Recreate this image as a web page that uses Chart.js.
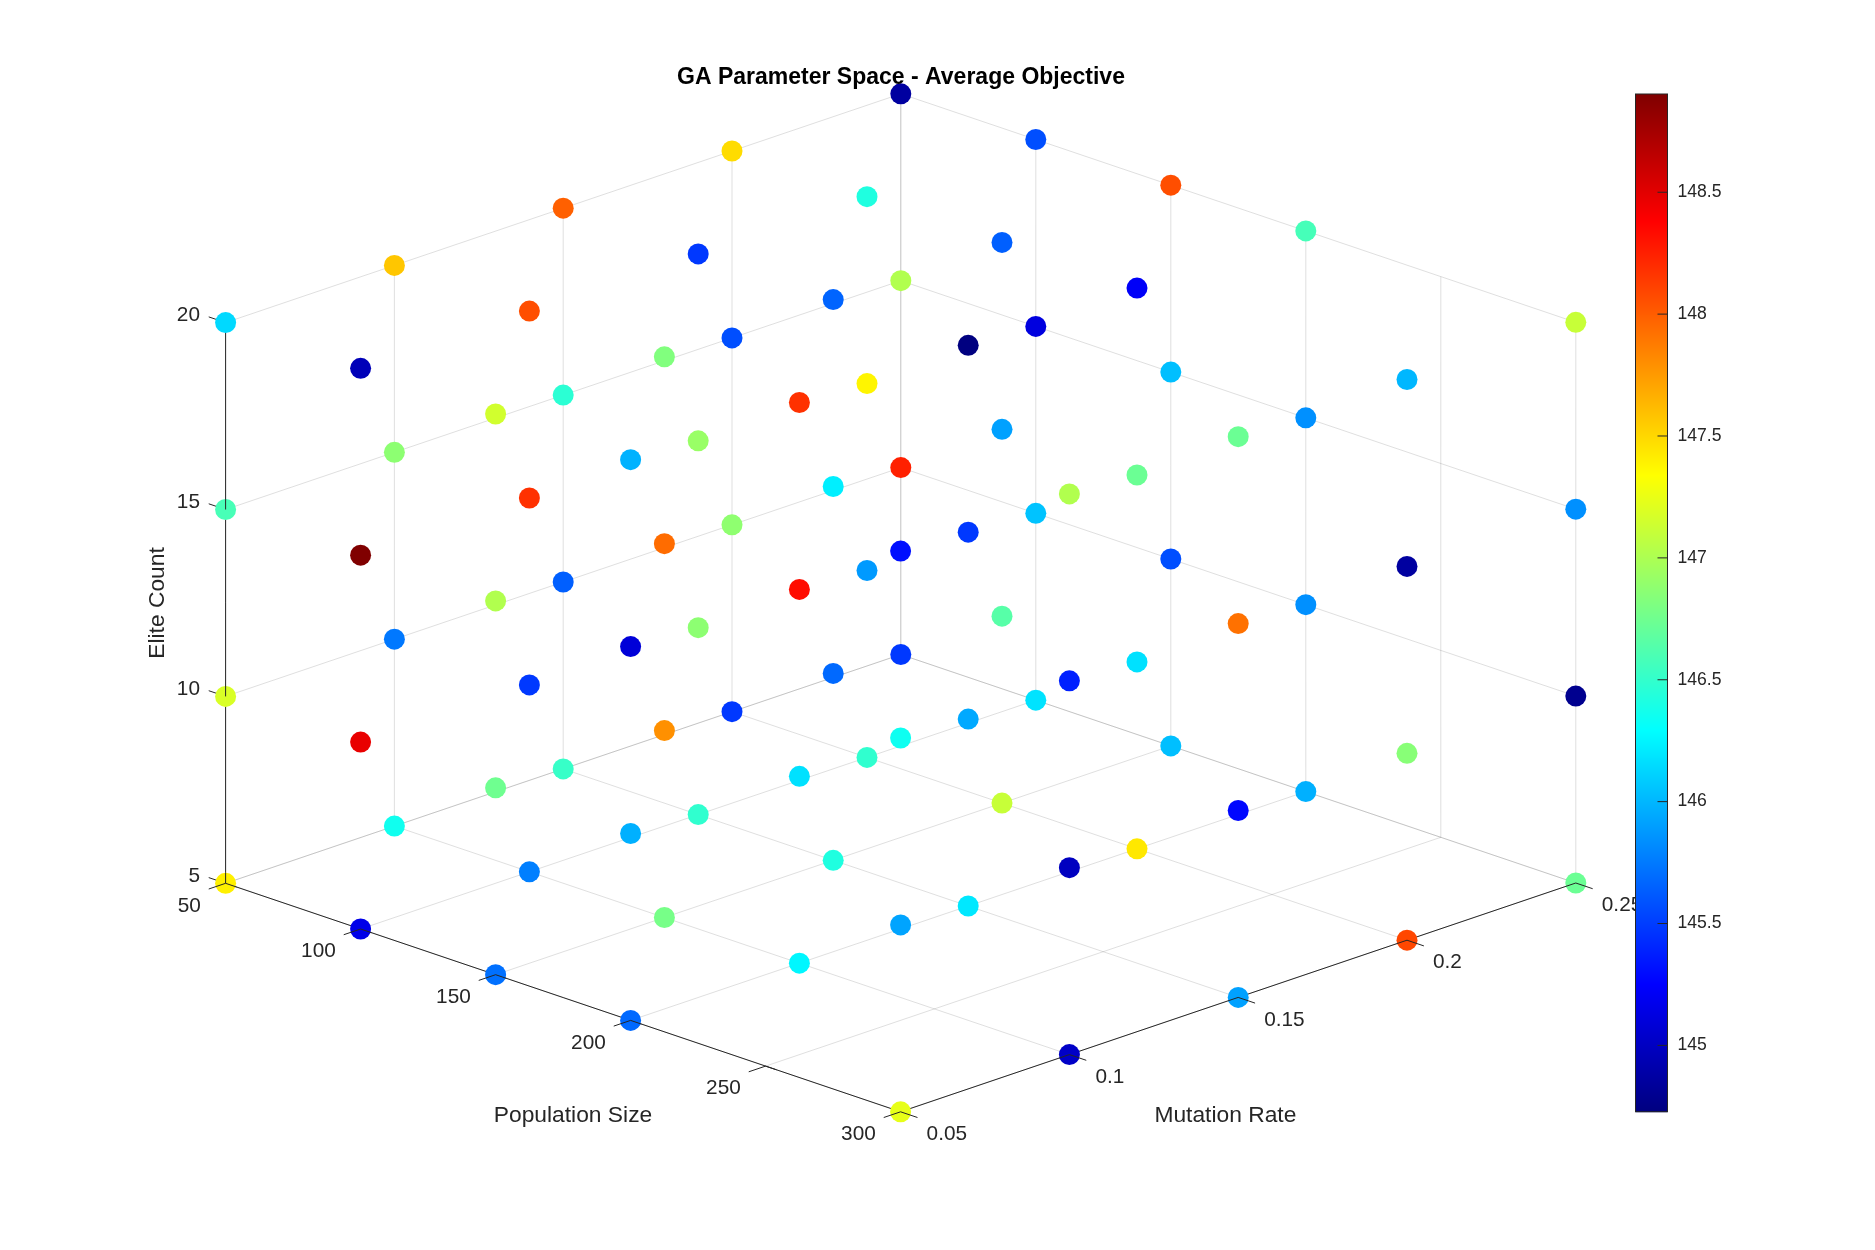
<!DOCTYPE html>
<html>
<head>
    <title>GA Parameter Space - Average Objective</title>
    <meta charset="utf-8" />
    <style>
        html, body { margin: 0; padding: 0; background: #fff; }
        #plot { display: block; width: 1875px; height: 1250px; }
    </style>
</head>
<body>
<canvas id="plot" width="1875" height="1250"></canvas>

<script src="https://cdn.jsdelivr.net/npm/chart.js@4/dist/chart.umd.min.js"></script>
<script>
    // grid of parameter values that were tried
    var populationSizes = [50, 100, 150, 200, 300];
    var mutationRates = [0.05, 0.1, 0.15, 0.2, 0.25];
    var eliteCounts = [5, 10, 15, 20];

    // average objective, one row per mutation rate, one column per population size
    var objElite5 = [
        [147.40, 145.16, 145.71, 145.68, 147.24],
        [146.36, 145.77, 146.78, 146.26, 145.02],
        [146.52, 146.49, 146.42, 146.20, 145.91],
        [145.48, 146.49, 147.11, 147.43, 148.09],
        [145.48, 146.18, 146.03, 145.97, 146.73]
    ];
    var objElite10 = [
        [147.18, 148.47, 146.75, 145.97, 145.92],
        [145.74, 145.48, 147.79, 146.17, 144.99],
        [145.64, 146.87, 145.68, 145.94, 145.28],
        [146.88, 145.88, 146.65, 146.17, 146.85],
        [148.25, 146.05, 145.57, 145.84, 144.79]
    ];
    var objElite15 = [
        [146.59, 148.90, 147.02, 145.09, 146.35],
        [146.87, 148.18, 147.94, 148.33, 145.38],
        [146.47, 146.92, 146.23, 145.48, 147.92],
        [145.57, 147.38, 145.91, 146.73, 144.86],
        [147.02, 145.12, 146.03, 145.84, 145.84]
    ];
    var objElite20 = [
        [146.14, 144.96, 147.15, 145.98, 145.31],
        [147.57, 148.06, 146.82, 148.18, 147.02],
        [147.99, 145.48, 145.66, 144.73, 146.73],
        [147.48, 146.42, 145.64, 145.22, 146.00],
        [144.86, 145.57, 148.06, 146.58, 147.11]
    ];
    var objByElite = [objElite5, objElite10, objElite15, objElite20];

    // axis ticks
    var popTicks = [50, 100, 150, 200, 250, 300];
    var mutTicks = [0.05, 0.1, 0.15, 0.2, 0.25];
    var mutTickLabels = ['0.05', '0.1', '0.15', '0.2', '0.25'];
    var eliteTicks = [5, 10, 15, 20];
    var colorTicks = [145, 145.5, 146, 146.5, 147, 147.5, 148, 148.5];
    var colorMin = 144.728, colorMax = 148.903;

    // fixed 3d view, worked out from the axis corners
    function project(pop, mut, elite) {
        var a = (pop - 50) / 50, b = (mut - 0.05) / 0.05, c = (elite - 5) / 5;
        return {
            x: 225.6 + 135 * a + 168.8 * b,
            y: 883.3 + 45.7 * a - 57.2 * b - 186.9 * c
        };
    }

    function jet(t) {
        function clamp(v) { return Math.max(0, Math.min(1, v)); }
        var r = clamp(Math.min(4 * t - 1.5, -4 * t + 4.5));
        var g = clamp(Math.min(4 * t - 0.5, -4 * t + 3.5));
        var b = clamp(Math.min(4 * t + 0.5, -4 * t + 2.5));
        return 'rgb(' + Math.round(r * 255) + ',' + Math.round(g * 255) + ',' + Math.round(b * 255) + ')';
    }
    function valueColor(v) {
        return jet((v - colorMin) / (colorMax - colorMin));
    }

    var gridColor = 'rgba(38,38,38,0.15)';
    var axisColor = '#262626';
    var datasets = [];

    function addLine(points, color, order) {
        datasets.push({
            type: 'line',
            data: points,
            borderColor: color,
            borderWidth: 1,
            pointRadius: 0,
            fill: false,
            order: order
        });
    }
    function seg(p1, m1, e1, p2, m2, e2) {
        return [project(p1, m1, e1), project(p2, m2, e2)];
    }

    // grid lines on the floor and on the two back walls
    popTicks.forEach(function (p) {
        addLine(seg(p, 0.05, 5, p, 0.25, 5), gridColor, 6);
        addLine(seg(p, 0.25, 5, p, 0.25, 20), gridColor, 6);
    });
    mutTicks.forEach(function (m) {
        addLine(seg(50, m, 5, 300, m, 5), gridColor, 6);
        addLine(seg(50, m, 5, 50, m, 20), gridColor, 6);
    });
    eliteTicks.forEach(function (e) {
        addLine(seg(50, 0.05, e, 50, 0.25, e), gridColor, 6);
        addLine(seg(50, 0.25, e, 300, 0.25, e), gridColor, 6);
    });

    // axis rulers
    addLine(seg(50, 0.05, 5, 300, 0.05, 5), axisColor, 5);
    addLine(seg(300, 0.05, 5, 300, 0.25, 5), axisColor, 5);
    addLine(seg(50, 0.05, 5, 50, 0.05, 20), axisColor, 5);
    eliteTicks.forEach(function (e) {
        addLine(seg(50, 0.05, e, 43.75, 0.05, e), axisColor, 5);
    });

    // ticks sit on top of the markers, together with a short piece of the ruler
    popTicks.forEach(function (p) {
        var end = Math.min(p + 4, 300);
        addLine([project(p, 0.045, 5), project(p, 0.05, 5), project(end, 0.05, 5)], axisColor, 1);
    });
    mutTicks.forEach(function (m) {
        var start = Math.max(m - 0.003, 0.05);
        addLine([project(300, start, 5), project(300, m, 5), project(306.25, m, 5)], axisColor, 1);
    });
    eliteTicks.forEach(function (e) {
        addLine(seg(50, 0.05, e, 50, 0.05, Math.min(e + 0.28, 20)), axisColor, 1);
    });

    // the scatter itself
    var points = [], colors = [];
    eliteCounts.forEach(function (e, k) {
        mutationRates.forEach(function (m, j) {
            populationSizes.forEach(function (p, i) {
                var v = objByElite[k][j][i];
                points.push(project(p, m, e));
                colors.push(valueColor(v));
            });
        });
    });
    datasets.push({
        type: 'scatter',
        data: points,
        backgroundColor: colors,
        borderWidth: 0,
        pointRadius: 10.5,
        order: 2
    });

    var textColor = '#262626';
    var tickFont = '20.8px "Liberation Sans"';
    var labelFont = '22.8px "Liberation Sans"';

    var decorations = {
        id: 'decorations',
        afterDraw: function (chart) {
            var ctx = chart.ctx;
            var xs = chart.scales.x, ys = chart.scales.y;
            function px(v) { return xs.getPixelForValue(v); }
            function py(v) { return ys.getPixelForValue(v); }

            ctx.save();
            ctx.fillStyle = textColor;
            ctx.textBaseline = 'middle';

            // tick labels
            ctx.font = tickFont;
            ctx.textAlign = 'right';
            eliteTicks.forEach(function (e) {
                var c = project(50, 0.05, e);
                ctx.fillText(String(e), px(c.x) - 25.6, py(c.y) - 7);
            });
            popTicks.forEach(function (p) {
                var c = project(p, 0.05, 5);
                ctx.fillText(String(p), px(c.x) - 24.8, py(c.y) + 22.5);
            });
            ctx.textAlign = 'left';
            mutTicks.forEach(function (m, i) {
                var c = project(300, m, 5);
                ctx.fillText(mutTickLabels[i], px(c.x) + 26, py(c.y) + 22.5);
            });

            // axis titles
            ctx.font = labelFont;
            ctx.textAlign = 'center';
            ctx.fillText('Population Size', px(573), py(1115.6));
            ctx.fillText('Mutation Rate', px(1225.4), py(1115.6));
            ctx.save();
            ctx.translate(px(157.5), py(603));
            ctx.rotate(-Math.PI / 2);
            ctx.fillText('Elite Count', 0, 0);
            ctx.restore();

            // title
            ctx.font = 'bold 23px "Liberation Sans"';
            ctx.fillStyle = '#000';
            ctx.fillText('GA Parameter Space - Average Objective', px(901), py(78));

            // colorbar, painted last so it covers the 0.25 label like the original
            var left = 1635.5, right = 1667.5, top = 94, bottom = 1111.7;
            function barY(v) {
                return bottom + (top - bottom) * (v - colorMin) / (colorMax - colorMin);
            }
            for (var y = top; y < bottom; y++) {
                ctx.fillStyle = jet((bottom - y - 0.5) / (bottom - top));
                ctx.fillRect(left, y, right - left, 1.2);
            }
            ctx.strokeStyle = axisColor;
            ctx.lineWidth = 1;
            ctx.strokeRect(left, top, right - left, bottom - top);
            ctx.font = '17.6px "Liberation Sans"';
            ctx.fillStyle = textColor;
            ctx.textAlign = 'left';
            colorTicks.forEach(function (v) {
                var y = barY(v);
                ctx.beginPath();
                ctx.moveTo(right - 10, y);
                ctx.lineTo(right, y);
                ctx.stroke();
                ctx.fillText(String(v), 1677.5, y);
            });
            ctx.restore();
        }
    };

    new Chart(document.getElementById('plot'), {
        type: 'scatter',
        data: { datasets: datasets },
        options: {
            responsive: false,
            animation: false,
            devicePixelRatio: 1,
            layout: { padding: 0, autoPadding: false },
            plugins: { legend: { display: false }, tooltip: { enabled: false } },
            elements: { line: { tension: 0 } },
            scales: {
                x: { type: 'linear', min: 0, max: 1875, display: false },
                y: { type: 'linear', min: 0, max: 1250, reverse: true, display: false }
            }
        },
        plugins: [decorations]
    });
</script>
</body>
</html>
